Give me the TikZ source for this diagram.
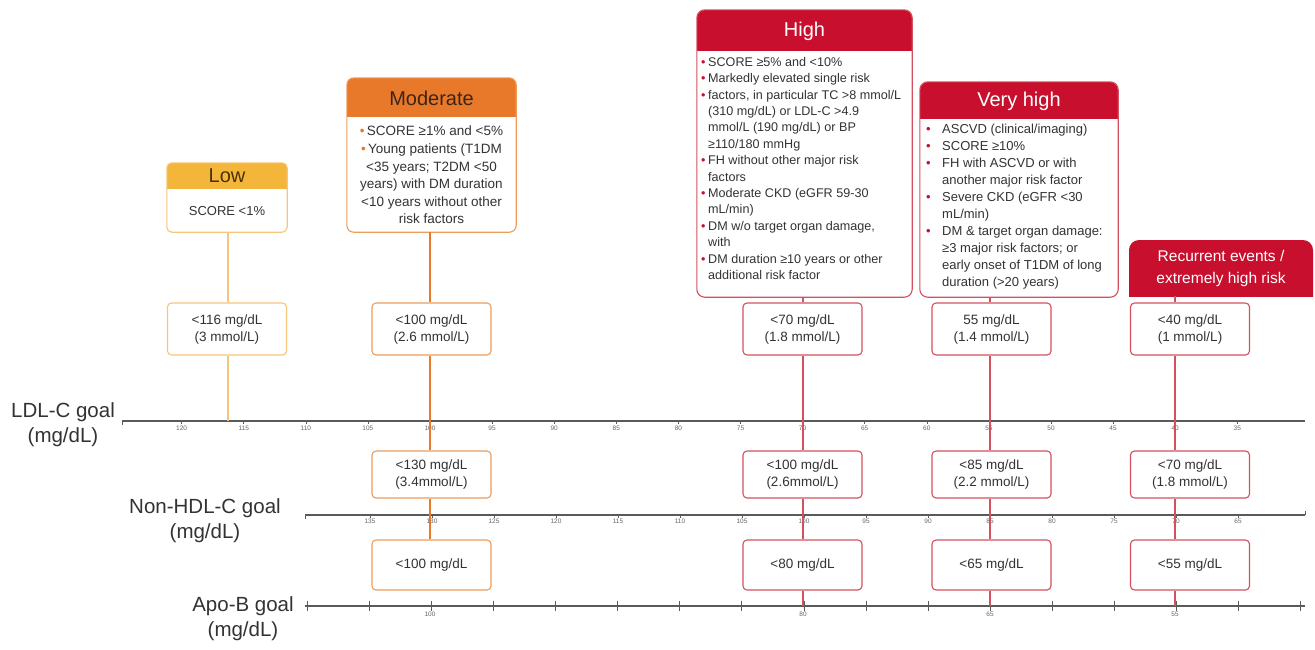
\documentclass[tikz,border=0pt]{standalone}
\usepackage{fontspec}
\setmainfont{Liberation Sans}
\usetikzlibrary{fit}
\definecolor{lowfill}{HTML}{F4B63A}
\definecolor{lowline}{HTML}{F6C67C}
\definecolor{lowtxt}{HTML}{4A3200}
\definecolor{modfill}{HTML}{E8792B}
\definecolor{modline}{HTML}{EE9C5A}
\definecolor{modtxt}{HTML}{3D2414}
\definecolor{redfill}{HTML}{C8102E}
\definecolor{redline}{HTML}{D4505F}
\definecolor{txt}{HTML}{333333}
\definecolor{axisc}{HTML}{5A5A5A}
\newcommand\hb{\makebox[7pt][l]{\textcolor{redfill}{•}}}
\newcommand\hi{\hspace*{7pt}}
\newcommand\vb{\makebox[16pt][l]{\textcolor{redfill}{•}}}
\newcommand\vi{\hspace*{16pt}}
\newcommand\mb{\textcolor{modfill}{•}\,}
\begin{document}
\begin{tikzpicture}[x=1pt,y=-1pt,
  every node/.style={text=txt},
  frame/.style={inner sep=0pt, fill=white},
  hdr/.style={font=\fontsize{20}{22}\selectfont},
  body/.style={inner sep=0pt, align=left, font=\fontsize{12.6}{16.4}\selectfont},
  vbox/.style={draw=#1, line width=1.1pt, rounded corners=4pt, fill=white, minimum width=119pt, align=center, font=\fontsize{13.5}{17}\selectfont, inner sep=2pt},
  axisline/.style={draw=axisc, line width=1.8pt},
  tk/.style={font=\fontsize{6.5}{7}\selectfont, text=gray!80!black, inner sep=0pt},
  tickmark/.style={draw=axisc, line width=0.5pt},
  vl/.style={draw=#1, line width=1.2pt},
  lbl/.style={align=center, font=\fontsize{20.5}{25}\selectfont}
]
\useasboundingbox (0,0) rectangle (1315,649);
\fill[white] (0,0) rectangle (1315,649);

% ---------------- axes
\coordinate (ldlS) at (122,421); \coordinate (ldlE) at (1305,421);
\coordinate (nhS) at (305,515); \coordinate (nhE) at (1305,515);
\coordinate (apoS) at (305,606); \coordinate (apoE) at (1305,606);
\draw[axisline] (ldlS) -- (ldlE);
\draw[axisline] (nhS) -- (nhE);
\draw[axisline] (apoS) -- (apoE);
\draw[tickmark] (ldlS) -- ++(0,4);
\draw[tickmark] (nhS) -- ++(0,4);
\draw[tickmark] (nhE) -- ++(0,-4);
\foreach \v in {120,115,...,35}{
  \draw[tickmark] ({430+(100-\v)*12.42},421) -- ++(0,3);
  \node[tk] (ldl\v) at ({430+(100-\v)*12.42},428) {\v};
}
\foreach \v in {135,130,...,65}{
  \draw[tickmark] ({804+(100-\v)*12.4},515) -- ++(0,3);
  \node[tk] (nh\v) at ({804+(100-\v)*12.4},521) {\v};
}
\foreach \k in {0,...,16}{
  \draw[tickmark] ({307+62.1*\k},601) -- ++(0,10);
}
\node[tk] (apo100) at (430,614) {100};
\node[tk] (apo80) at (803,614) {80};
\node[tk] (apo65) at (990,614) {65};
\node[tk] (apo55) at (1175,614) {55};

% ---------------- axis labels
\node[lbl] (ldllab) at (63,425) {LDL-C goal\\(mg/dL)};
\node[lbl] (nhlab) at (205,521) {Non-HDL-C goal\\(mg/dL)};
\node[lbl] (apolab) at (243,619) {Apo-B goal\\(mg/dL)};

% ---------------- line positions
\coordinate (lowx) at (228,0);
\coordinate (modx) at (430,0);
\coordinate (highx) at (803,0);
\coordinate (vhighx) at (990,0);
\coordinate (recx) at (1175,0);

% ---------------- category boxes
% Low
\node[frame, fit={(167,163) (287,232)}] (low) {};
\begin{scope}\clip (167,163) rectangle (287,188);
\fill[lowfill, rounded corners=5pt] (167,163) rectangle (287,200);\end{scope}
\draw[lowline, line width=1.1pt, rounded corners=5pt] (low.north west) rectangle (low.south east);
\node[hdr, text=lowtxt] (lowh) at (227,176) {Low};
\node[font=\fontsize{13}{15}\selectfont] (lowb) at (227,211) {SCORE <1\%};

% Moderate
\node[frame, fit={(347,78) (516,232)}] (mod) {};
\begin{scope}\clip (347,78) rectangle (516,116);
\fill[modfill, rounded corners=7pt] (347,78) rectangle (516,130);\end{scope}
\draw[modline, line width=1.1pt, rounded corners=7pt] (mod.north west) rectangle (mod.south east);
\node[hdr, text=modtxt] (modh) at (431.5,98) {Moderate};
\node[inner sep=0pt, align=center, font=\fontsize{13.5}{17.6}\selectfont] (modb) at (431.5,175)
 {\mb SCORE ≥1\% and <5\%\\ \mb Young patients (T1DM\\<35 years; T2DM <50\\years) with DM duration\\<10 years without other\\risk factors};

% High
\node[frame, fit={(697,10) (912,297)}] (high) {};
\begin{scope}\clip (697,10) rectangle (912,50);
\fill[redfill, rounded corners=8pt] (697,10) rectangle (912,70);\end{scope}
\draw[redline, line width=1.1pt, rounded corners=8pt] (high.north west) rectangle (high.south east);
\node[hdr, text=white] (highh) at (804.5,31) {High};
\node[body, anchor=north west] (highb) at (701,57)
 {\hb SCORE ≥5\% and <10\%\\
  \hb Markedly elevated single risk\\
  \hb factors, in particular TC >8 mmol/L\\
  \hi (310 mg/dL) or LDL-C >4.9\\
  \hi mmol/L (190 mg/dL) or BP\\
  \hi ≥110/180 mmHg\\
  \hb FH without other major risk\\
  \hi factors\\
  \hb Moderate CKD (eGFR 59-30\\
  \hi mL/min)\\
  \hb DM w/o target organ damage,\\
  \hi with\\
  \hb DM duration ≥10 years or other\\
  \hi additional risk factor};

% Very high
\node[frame, fit={(920,82) (1118,297)}] (vhigh) {};
\begin{scope}\clip (920,82) rectangle (1118,118);
\fill[redfill, rounded corners=8pt] (920,82) rectangle (1118,140);\end{scope}
\draw[redline, line width=1.1pt, rounded corners=8pt] (vhigh.north west) rectangle (vhigh.south east);
\node[hdr, text=white] (vhighh) at (1019,101) {Very high};
\node[body, anchor=north west, font=\fontsize{13}{17}\selectfont] (vhighb) at (926,124)
 {\vb ASCVD (clinical/imaging)\\
  \vb SCORE ≥10\%\\
  \vb FH with ASCVD or with\\
  \vi another major risk factor\\
  \vb Severe CKD (eGFR <30\\
  \vi mL/min)\\
  \vb DM \& target organ damage:\\
  \vi ≥3 major risk factors; or\\
  \vi early onset of T1DM of long\\
  \vi duration (>20 years)};

% Recurrent
\node[frame, fit={(1129,240) (1313,296)}] (rec) {};
\begin{scope}\clip (1129,240) rectangle (1313,296);
\fill[redfill, rounded corners=10pt] (1129,240) rectangle (1313,320);\end{scope}
\node[align=center, text=white, font=\fontsize{15.5}{22}\selectfont] (rech) at (1221,268) {Recurrent events /\\extremely high risk};

% ---------------- value boxes
\node[vbox=lowline, minimum height=52pt] (lowL) at (227,329) {<116 mg/dL\\(3 mmol/L)};
\node[vbox=modline, minimum height=52pt] (modL) at (431.5,329) {<100 mg/dL\\(2.6 mmol/L)};
\node[vbox=redline, minimum height=52pt] (highL) at (802.5,329) {<70 mg/dL\\(1.8 mmol/L)};
\node[vbox=redline, minimum height=52pt] (vhighL) at (991.5,329) {55 mg/dL\\(1.4 mmol/L)};
\node[vbox=redline, minimum height=52pt] (recL) at (1190,329) {<40 mg/dL\\(1 mmol/L)};

\node[vbox=modline, minimum height=47pt] (modN) at (431.5,474.5) {<130 mg/dL\\(3.4mmol/L)};
\node[vbox=redline, minimum height=47pt] (highN) at (802.5,474.5) {<100 mg/dL\\(2.6mmol/L)};
\node[vbox=redline, minimum height=47pt] (vhighN) at (991.5,474.5) {<85 mg/dL\\(2.2 mmol/L)};
\node[vbox=redline, minimum height=47pt] (recN) at (1190,474.5) {<70 mg/dL\\(1.8 mmol/L)};

\node[vbox=modline, minimum height=50pt] (modA) at (431.5,565) {<100 mg/dL};
\node[vbox=redline, minimum height=50pt] (highA) at (802.5,565) {<80 mg/dL};
\node[vbox=redline, minimum height=50pt] (vhighA) at (991.5,565) {<65 mg/dL};
\node[vbox=redline, minimum height=50pt] (recA) at (1190,565) {<55 mg/dL};

% ---------------- connectors
\draw[vl=lowline] (low.south -| lowx) -- (lowL.north -| lowx);
\draw[vl=lowline] (lowL.south -| lowx) -- (ldlS -| lowx);

\draw[vl=modfill] (mod.south -| modx) -- (modL.north -| modx);
\draw[vl=modfill] (modL.south -| modx) -- (modN.north -| modx);
\draw[vl=modfill] (modN.south -| modx) -- (modA.north -| modx);

\draw[vl=redline] (high.south -| highx) -- (highL.north -| highx);
\draw[vl=redline] (highL.south -| highx) -- (highN.north -| highx);
\draw[vl=redline] (highN.south -| highx) -- (highA.north -| highx);
\draw[vl=redline] (highA.south -| highx) -- (apoS -| highx);

\draw[vl=redline] (vhigh.south -| vhighx) -- (vhighL.north -| vhighx);
\draw[vl=redline] (vhighL.south -| vhighx) -- (vhighN.north -| vhighx);
\draw[vl=redline] (vhighN.south -| vhighx) -- (vhighA.north -| vhighx);
\draw[vl=redline] (vhighA.south -| vhighx) -- (apoS -| vhighx);

\draw[vl=redline] (rec.south -| recx) -- (recL.north -| recx);
\draw[vl=redline] (recL.south -| recx) -- (recN.north -| recx);
\draw[vl=redline] (recN.south -| recx) -- (recA.north -| recx);
\draw[vl=redline] (recA.south -| recx) -- (apoS -| recx);
\end{tikzpicture}
\end{document}
